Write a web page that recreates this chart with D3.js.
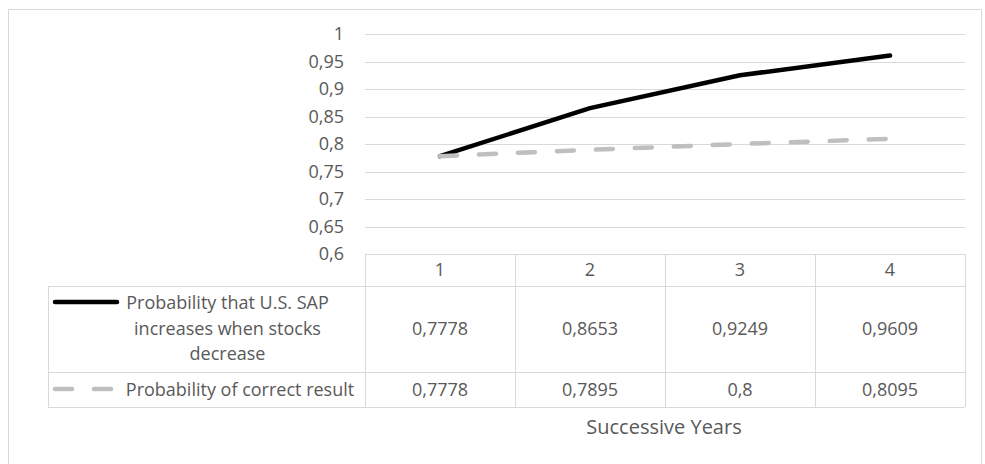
<!DOCTYPE html>
<html>
<head>
<meta charset="utf-8">
<script src="https://cdn.jsdelivr.net/npm/d3@7"></script>
<style>
  html, body { margin: 0; padding: 0; background: #fff; }
  svg { display: block; font-family: "Open Sans", sans-serif; }
</style>
</head>
<body>
<svg id="chart" width="985" height="464"></svg>
<script>
// Successive years on the category axis
const years = ["1", "2", "3", "4"];
// Series names, as shown in the data table
const seriesNames = [
  "Probability that U.S. SAP increases when stocks decrease",
  "Probability of correct result"
];
const labelLines = [
  ["Probability that U.S. SAP", "increases when stocks", "decrease"],
  ["Probability of correct result"]
];
const sapIncrease = [0.7778, 0.8653, 0.9249, 0.9609];
const correctResult = [0.7778, 0.7895, 0.8, 0.8095];
const sapIncreaseText = ["0,7778", "0,8653", "0,9249", "0,9609"];
const correctResultText = ["0,7778", "0,7895", "0,8", "0,8095"];
const yTicks = [0.6, 0.65, 0.7, 0.75, 0.8, 0.85, 0.9, 0.95, 1];
const yTickText = ["0,6", "0,65", "0,7", "0,75", "0,8", "0,85", "0,9", "0,95", "1"];
const axisTitle = "Successive Years";

const svg = d3.select("#chart");
const textColor = "#595959";
const gridColor = "#d9d9d9";
const fontSize = "18px";

// outer chart frame
svg.append("rect")
  .attr("x", 8.5).attr("y", 9.5)
  .attr("width", 973).attr("height", 470)
  .attr("fill", "none").attr("stroke", "#d9d9d9").attr("stroke-width", 1);

const plotLeft = 365, plotRight = 965;
const x = d3.scaleBand().domain(years).range([plotLeft, plotRight]).padding(0);
const y = d3.scaleLinear().domain([0.6, 1]).range([254, 34]);

// horizontal gridlines
const gridAxis = d3.axisLeft(y).tickValues(yTicks.slice(1))
  .tickSize(-(plotRight - plotLeft)).tickFormat("");
const gridG = svg.append("g").attr("transform", `translate(${plotLeft},0)`).call(gridAxis);
gridG.select(".domain").remove();
gridG.selectAll(".tick line").attr("stroke", gridColor).attr("stroke-width", 1)
  .attr("shape-rendering", "crispEdges");

// y tick labels
const yAxis = d3.axisLeft(y).tickValues(yTicks).tickSize(0).tickPadding(21)
  .tickFormat((d, i) => yTickText[i]);
const yG = svg.append("g").attr("transform", `translate(${plotLeft},0)`).call(yAxis);
yG.select(".domain").remove();
yG.selectAll("text").attr("fill", textColor).style("font-size", fontSize)
  .style("font-family", "'Open Sans', sans-serif");

// data table below the plot
const tableTop = y(0.6), headerBottom = 286, row1Bottom = 372, row2Bottom = 407;
const tableLeft = 48;
const tbl = svg.append("g").attr("stroke", gridColor).attr("stroke-width", 1)
  .attr("shape-rendering", "crispEdges").attr("fill", "none");
// horizontal rules
tbl.append("line").attr("x1", plotLeft).attr("x2", plotRight).attr("y1", tableTop).attr("y2", tableTop);
[headerBottom, row1Bottom, row2Bottom].forEach(v => {
  tbl.append("line").attr("x1", tableLeft).attr("x2", plotRight).attr("y1", v).attr("y2", v);
});
// vertical rules
tbl.append("line").attr("x1", tableLeft).attr("x2", tableLeft).attr("y1", headerBottom).attr("y2", row2Bottom);
years.forEach(c => {
  tbl.append("line").attr("x1", x(c)).attr("x2", x(c)).attr("y1", tableTop).attr("y2", row2Bottom);
});
tbl.append("line").attr("x1", plotRight).attr("x2", plotRight).attr("y1", tableTop).attr("y2", row2Bottom);

const cell = svg.append("g").attr("fill", textColor).style("font-size", fontSize)
  .attr("text-anchor", "middle");
years.forEach((c, i) => {
  const cx = x(c) + x.bandwidth() / 2;
  cell.append("text").attr("x", cx).attr("y", 276).text(c);
  cell.append("text").attr("x", cx).attr("y", 335).text(sapIncreaseText[i]);
  cell.append("text").attr("x", cx).attr("y", 396).text(correctResultText[i]);
});

// row headers with legend keys
const keyX1 = 55, keyX2 = 117;
svg.append("line").attr("x1", keyX1).attr("x2", keyX2).attr("y1", 302).attr("y2", 302)
  .attr("stroke", "#000").attr("stroke-width", 4.5).attr("stroke-linecap", "round");
svg.append("line").attr("x1", keyX1).attr("x2", keyX2 - 1).attr("y1", 389).attr("y2", 389)
  .attr("stroke", "#bfbfbf").attr("stroke-width", 4.5).attr("stroke-linecap", "round")
  .attr("stroke-dasharray", "17,22");

const lab1 = cell.append("text").attr("x", 227.5).attr("y", 309);
labelLines[0].forEach((t, i) => {
  lab1.append("tspan").attr("x", 227.5).attr("dy", i === 0 ? 0 : 25.5).text(t);
});
cell.append("text").attr("x", 240).attr("y", 396).text(labelLines[1][0]);

// axis title
svg.append("text").attr("x", 664).attr("y", 434).attr("text-anchor", "middle")
  .attr("fill", textColor).style("font-size", "20px").text(axisTitle);

// series lines
const line = d3.line()
  .x((d, i) => x(years[i]) + x.bandwidth() / 2)
  .y(d => y(d));

svg.append("path").datum(sapIncrease)
  .attr("d", line).attr("fill", "none").attr("stroke", "#000")
  .attr("stroke-width", 4.5).attr("stroke-linecap", "round").attr("stroke-linejoin", "round")
  .attr("aria-label", seriesNames[0]);

svg.append("path").datum(correctResult)
  .attr("d", line).attr("fill", "none").attr("stroke", "#bfbfbf")
  .attr("stroke-width", 4.5).attr("stroke-linecap", "round").attr("stroke-linejoin", "round")
  .attr("stroke-dasharray", "17,22").attr("aria-label", seriesNames[1]);
</script>
</body>
</html>
